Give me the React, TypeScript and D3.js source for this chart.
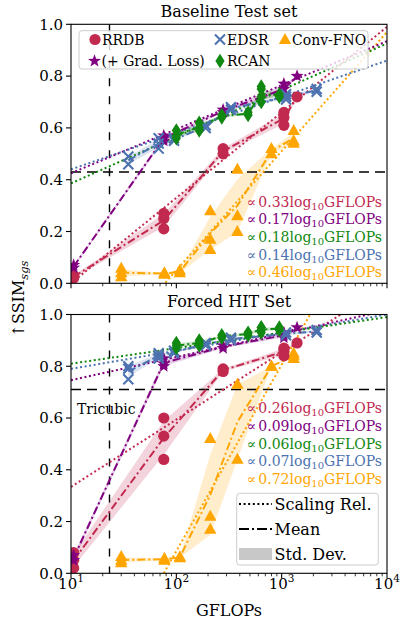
import React from "react";
import * as d3 from "d3";

// ---------- data ----------
const modelNames = ["RRDB", "(+ Grad. Loss)", "RCAN", "EDSR", "Conv-FNO"];
const modelColors = ["#c2294f", "#800080", "#118811", "#4c72b0", "#ffa500"];
const modelMarkers = ["circle", "star", "diamond", "x", "triangle"];

const gflopsRRDB = [10.6, 76, 278, 1050, 1400];
const gflopsRCAN = [100, 165, 270, 480, 640, 950];
const gflopsEDSR = [35, 68, 95, 190, 330, 1100, 2150];
const gflopsFNO = [30, 77, 108, 210, 380, 800, 1300];

const baseRRDB = [[0.03, 0.02], [0.27, 0.25, 0.21], [0.52, 0.5], [0.61, 0.64, 0.66], [0.72]];
const baseGrad = [[0.07, 0.06], [0.57, 0.55, 0.56], [0.67, 0.66], [0.77, 0.75, 0.73], [0.8]];
const baseRCAN = [[0.59, 0.56, 0.57], [0.62, 0.59, 0.6], [0.64, 0.65], [0.66, 0.65], [0.76, 0.72, 0.7, 0.75], [0.72, 0.73]];
const baseEDSR = [[0.49, 0.46], [0.56, 0.52, 0.54], [0.55, 0.56], [0.61, 0.6], [0.68, 0.67], [0.71, 0.73, 0.72], [0.74, 0.75]];
const baseFNO = [[0.058, 0.025, 0.04], [0.04, 0.035], [0.04, 0.05], [0.28, 0.17, 0.13], [0.44, 0.26, 0.2], [0.52, 0.5], [0.59, 0.55, 0.54]];

const hitRRDB = [[0.08, 0.02, 0.05], [0.6, 0.53, 0.44], [0.79, 0.78], [0.84, 0.86, 0.87], [0.89]];
const hitGrad = [[0.07, 0.05], [0.83, 0.8, 0.81], [0.88, 0.87], [0.92, 0.91, 0.93], [0.95]];
const hitRCAN = [[0.89, 0.87, 0.88], [0.9, 0.89, 0.88], [0.92, 0.91], [0.92, 0.93], [0.95, 0.94, 0.93, 0.95], [0.94, 0.95]];
const hitEDSR = [[0.8, 0.75, 0.79], [0.84, 0.83, 0.85], [0.85, 0.86], [0.89, 0.88], [0.91, 0.9], [0.92, 0.93], [0.93, 0.94]];
const hitFNO = [[0.065, 0.04, 0.05], [0.058, 0.05], [0.064, 0.06], [0.52, 0.22, 0.17], [0.73, 0.44], [0.8, 0.8], [0.85, 0.83, 0.84]];

// scaling relations: value = intercept + slope * (log10(GFLOPs) - 1)
const baseSlopes = [0.33, 0.17, 0.18, 0.14, 0.46];
const baseIntercepts = [0.0, 0.425, 0.386, 0.44, -0.41];
const hitSlopes = [0.26, 0.09, 0.06, 0.07, 0.72];
const hitIntercepts = [0.334, 0.746, 0.81, 0.79, -0.634];

const yTicks = [0, 0.2, 0.4, 0.6, 0.8, 1.0];
const xTicks = [10, 100, 1000, 10000];
const tricubicFlops = 23.2;
const tricubicBase = 0.43;
const tricubicHit = 0.71;

// ---------- layout ----------
const W = 401;
const H = 621;
const X0 = 71;
const X1 = 387;
const FONT = "DejaVu Serif";

const x = d3.scaleLog().domain([10, 10000]).range([X0, X1]);

const gflopsByModel = [gflopsRRDB, gflopsRRDB, gflopsRCAN, gflopsEDSR, gflopsFNO];

function markerPath(kind: string): string {
  switch (kind) {
    case "star": {
      const pts: string[] = [];
      for (let i = 0; i < 10; i++) {
        const r = i % 2 === 0 ? 6.8 : 2.8;
        const a = -Math.PI / 2 + (i * Math.PI) / 5;
        pts.push(`${r * Math.cos(a)},${r * Math.sin(a)}`);
      }
      return "M" + pts.join("L") + "Z";
    }
    case "diamond":
      return "M0,-7.2L4.6,0L0,7.2L-4.6,0Z";
    case "x":
      return "M-5,-5L5,5M-5,5L5,-5";
    case "triangle":
      return "M0,-6.6L6.2,4.4L-6.2,4.4Z";
    default:
      return "";
  }
}

function Marker({ kind, cx, cy, color }: { kind: string; cx: number; cy: number; color: string }) {
  if (kind === "circle") return <circle cx={cx} cy={cy} r={5.6} fill={color} />;
  if (kind === "x")
    return (
      <path d={markerPath("x")} transform={`translate(${cx},${cy})`} stroke={color} strokeWidth={2.1} fill="none" />
    );
  return <path d={markerPath(kind)} transform={`translate(${cx},${cy})`} fill={color} />;
}

function popStd(v: number[]) {
  const m = d3.mean(v) as number;
  return Math.sqrt(d3.mean(v.map((d) => (d - m) * (d - m))) as number);
}

type PanelProps = {
  idx: number;
  top: number;
  bottom: number;
  title: string;
  titleY: number;
  values: number[][][];
  slopes: number[];
  intercepts: number[];
  tricubic: number;
  labelY0: number;
  labelDy: number;
  showXLabels: boolean;
};

function Panel(p: PanelProps) {
  const y = d3.scaleLinear().domain([0, 1]).range([p.bottom, p.top]);
  const clipId = `clip${p.idx}`;
  const minor: number[] = [];
  for (let e = 1; e < 4; e++) for (let k = 2; k < 10; k++) minor.push(k * Math.pow(10, e));

  const line = d3
    .line<[number, number]>()
    .x((d) => x(d[0]))
    .y((d) => y(d[1]));
  const area = d3
    .area<[number, number, number]>()
    .x((d) => x(d[0]))
    .y0((d) => y(d[1]))
    .y1((d) => y(d[2]));

  const order = [4, 0, 1, 3, 2];

  return (
    <g>
      <text x={(X0 + X1) / 2} y={p.titleY} textAnchor="middle" fontSize={16} fontFamily={FONT}>
        {p.title}
      </text>
      <defs>
        <clipPath id={clipId}>
          <rect x={X0} y={p.top} width={X1 - X0} height={p.bottom - p.top} />
        </clipPath>
      </defs>
      <g clipPath={`url(#${clipId})`}>
        {/* std bands */}
        {order.map((m) => {
          const gf = gflopsByModel[m];
          const pts = p.values[m].map((v, i) => {
            const mu = d3.mean(v) as number;
            const s = popStd(v);
            return [gf[i], mu - s, mu + s] as [number, number, number];
          });
          return <path key={"b" + m} d={area(pts) || ""} fill={modelColors[m]} fillOpacity={0.2} stroke="none" />;
        })}
        {/* tricubic reference */}
        <line x1={x(tricubicFlops)} x2={x(tricubicFlops)} y1={p.top} y2={p.bottom} stroke="#000" strokeWidth={1.4} strokeDasharray="8,10" />
        <line x1={X0} x2={X1} y1={y(p.tricubic)} y2={y(p.tricubic)} stroke="#000" strokeWidth={1.4} strokeDasharray="10,6" />
        {/* scaling relations */}
        {order.map((m) => {
          const pts: [number, number][] = [10, 10000].map((g) => [g, p.intercepts[m] + p.slopes[m] * (Math.log10(g) - 1)]);
          return (
            <path key={"s" + m} d={line(pts) || ""} stroke={modelColors[m]} strokeWidth={2} strokeDasharray="2,2.6" fill="none" />
          );
        })}
        {/* means */}
        {order.map((m) => {
          const gf = gflopsByModel[m];
          const pts = p.values[m].map((v, i) => [gf[i], d3.mean(v) as number] as [number, number]);
          return (
            <path key={"m" + m} d={line(pts) || ""} stroke={modelColors[m]} strokeWidth={2} strokeDasharray="8,3,2,3" fill="none" />
          );
        })}
        {/* markers */}
        {order.map((m) => {
          const gf = gflopsByModel[m];
          return (
            <g key={"p" + m}>
              {p.values[m].flatMap((v, i) =>
                v.map((val, j) => (
                  <Marker key={`${i}-${j}`} kind={modelMarkers[m]} cx={x(gf[i])} cy={y(val)} color={modelColors[m]} />
                ))
              )}
            </g>
          );
        })}
      </g>
      {/* frame */}
      <rect x={X0} y={p.top} width={X1 - X0} height={p.bottom - p.top} fill="none" stroke="#000" strokeWidth={1.1} />
      {/* y ticks */}
      {yTicks.map((t) => (
        <g key={"y" + t}>
          <line x1={X0 - 5} x2={X0} y1={y(t)} y2={y(t)} stroke="#000" strokeWidth={1.1} />
          <text x={X0 - 8} y={y(t) + 5.3} textAnchor="end" fontSize={15} fontFamily={FONT}>
            {d3.format(".1f")(t)}
          </text>
        </g>
      ))}
      {/* x ticks */}
      {xTicks.map((t) => (
        <g key={"x" + t}>
          <line x1={x(t)} x2={x(t)} y1={p.bottom} y2={p.bottom + 5} stroke="#000" strokeWidth={1.1} />
          {p.showXLabels && (
            <text x={x(t)} y={p.bottom + 15.5} textAnchor="middle" fontSize={15} fontFamily={FONT}>
              10
              <tspan fontSize={10.5} dy={-6.5}>
                {Math.round(Math.log10(t))}
              </tspan>
            </text>
          )}
        </g>
      ))}
      {minor.map((t) => (
        <line key={"mx" + t} x1={x(t)} x2={x(t)} y1={p.bottom} y2={p.bottom + 3} stroke="#000" strokeWidth={0.8} />
      ))}
      {/* scaling labels */}
      {p.slopes.map((s, m) => (
        <text
          key={"l" + m}
          x={382}
          y={p.labelY0 + m * p.labelDy}
          textAnchor="end"
          fontSize={14}
          fontFamily={FONT}
          fill={modelColors[m]}
        >
          {"∝"}
          <tspan dx={2}>{d3.format(".2f")(s)}</tspan>
          <tspan>log</tspan>
          <tspan fontSize={10} dy={3}>
            10
          </tspan>
          <tspan dy={-3}>GFLOPs</tspan>
        </text>
      ))}
    </g>
  );
}

export default function App() {
  const baseValues = [baseRRDB, baseGrad, baseRCAN, baseEDSR, baseFNO];
  const hitValues = [hitRRDB, hitGrad, hitRCAN, hitEDSR, hitFNO];

  const legendTop = [
    { m: 0, x: 95, y: 39.5 },
    { m: 3, x: 220, y: 39.5 },
    { m: 4, x: 285, y: 39.5 },
    { m: 1, x: 94.5, y: 61 },
    { m: 2, x: 220, y: 61 },
  ];

  return (
    <svg
      width={W}
      height={H}
      viewBox={`0 0 ${W} ${H}`}
      style={{ position: "absolute", left: 0, top: 0, background: "#fff" }}
      fontFamily={FONT}
    >
      <rect x={0} y={0} width={W} height={H} fill="#fff" />
      <Panel
        idx={0}
        top={24.3}
        bottom={283.3}
        title="Baseline Test set"
        titleY={16.7}
        values={baseValues}
        slopes={baseSlopes}
        intercepts={baseIntercepts}
        tricubic={tricubicBase}
        labelY0={206.5}
        labelDy={17.7}
        showXLabels={false}
      />
      <Panel
        idx={1}
        top={314.5}
        bottom={573.3}
        title="Forced HIT Set"
        titleY={306.5}
        values={hitValues}
        slopes={hitSlopes}
        intercepts={hitIntercepts}
        tricubic={tricubicHit}
        labelY0={413}
        labelDy={17.8}
        showXLabels={true}
      />
      <text x={77} y={414} fontSize={14} fontFamily={FONT}>
        Tricubic
      </text>

      {/* top legend */}
      <rect x={79} y={30.7} width={289} height={38.3} rx={3} fill="#fff" fillOpacity={0.8} stroke="#cccccc" strokeWidth={1} />
      {legendTop.map((l) => (
        <g key={"lg" + l.m}>
          <Marker kind={modelMarkers[l.m]} cx={l.x} cy={l.y} color={modelColors[l.m]} />
          <text x={l.x + 7} y={l.y + 5} fontSize={14} fontFamily={FONT}>
            {modelNames[l.m]}
          </text>
        </g>
      ))}

      {/* bottom legend */}
      <rect x={236.7} y={493.3} width={141.6} height={71.7} rx={3} fill="#fff" fillOpacity={0.8} stroke="#cccccc" strokeWidth={1} />
      <line x1={239} x2={272} y1={504} y2={504} stroke="#000" strokeWidth={2} strokeDasharray="2,2.6" />
      <text x={274.5} y={509.5} fontSize={16} fontFamily={FONT}>
        Scaling Rel.
      </text>
      <line x1={239} x2={272} y1={529} y2={529} stroke="#000" strokeWidth={2} strokeDasharray="10,3,2,3" />
      <text x={274.5} y={534.5} fontSize={16} fontFamily={FONT}>
        Mean
      </text>
      <rect x={239} y={548} width={33} height={12} fill="#c8c8c8" />
      <text x={274.5} y={559.5} fontSize={16} fontFamily={FONT}>
        Std. Dev.
      </text>

      {/* axis labels */}
      <text x={(X0 + X1) / 2} y={616} textAnchor="middle" fontSize={16} fontFamily={FONT}>
        GFLOPs
      </text>
      <text transform="translate(24,299) rotate(-90)" textAnchor="middle" fontSize={16} fontFamily={FONT}>
        ↑SSIM
        <tspan fontSize={11.5} fontStyle="italic" dy={4}>
          sgs
        </tspan>
      </text>
    </svg>
  );
}
